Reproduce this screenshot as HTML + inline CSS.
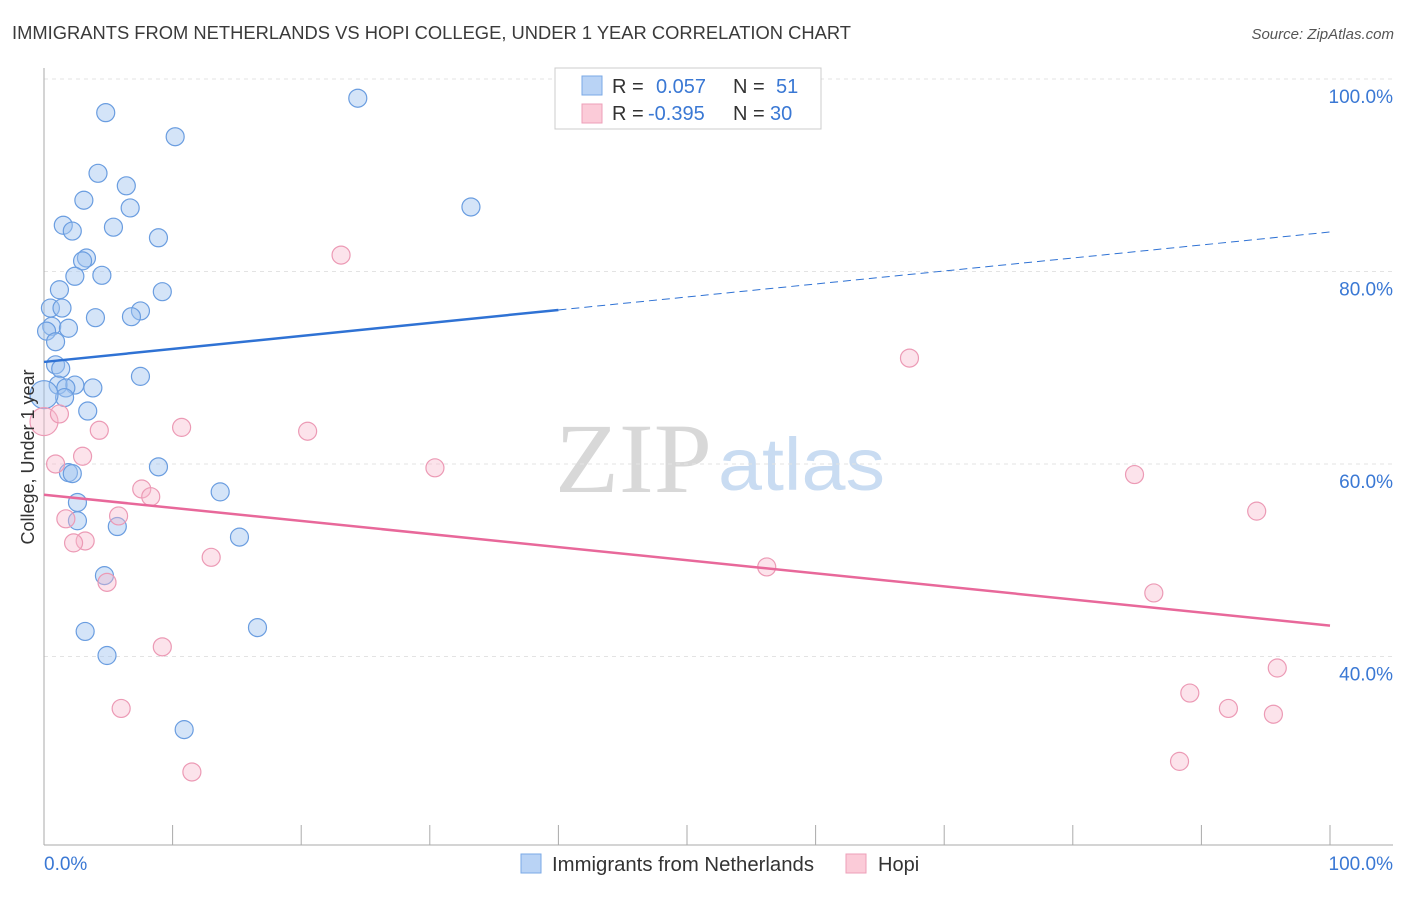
<!DOCTYPE html>
<html><head><meta charset="utf-8"><style>
body{margin:0;background:#fff;font-family:"Liberation Sans",sans-serif}
svg text{font-family:"Liberation Sans",sans-serif}
</style></head><body>
<svg id="chart" width="1406" height="892">
<text x="12" y="39" font-size="18" fill="#3a3a3a" textLength="839" lengthAdjust="spacingAndGlyphs">IMMIGRANTS FROM NETHERLANDS VS HOPI COLLEGE, UNDER 1 YEAR CORRELATION CHART</text>
<text x="1394" y="39" font-size="15" fill="#555" text-anchor="end" font-style="italic">Source: ZipAtlas.com</text>
<g>
<text x="555" y="492" font-size="100" fill="#d8d8d8" textLength="157" lengthAdjust="spacingAndGlyphs" style="font-family:'Liberation Serif',serif">ZIP</text>
<text x="718" y="490" font-size="74" fill="#c9dcf2" textLength="167" lengthAdjust="spacingAndGlyphs">atlas</text>
</g>
<g id="grid"></g><g id="axes"></g><g id="marks"></g>
<g>
<rect x="555" y="68" width="266" height="61" fill="#fff" stroke="#ccc"/>
<rect x="582" y="76" width="20" height="19" fill="#b9d3f5" stroke="#7aa8e6"/>
<text x="612" y="93" font-size="20" fill="#333">R = </text><text x="656" y="93" font-size="20" fill="#3a78d4">0.057</text>
<text x="733" y="93" font-size="20" fill="#333">N = </text><text x="776" y="93" font-size="20" fill="#3a78d4">51</text>
<rect x="582" y="104" width="20" height="19" fill="#fbcbd8" stroke="#ee9fb8"/>
<text x="612" y="120" font-size="20" fill="#333">R = </text><text x="648" y="120" font-size="20" fill="#3a78d4">-0.395</text>
<text x="733" y="120" font-size="20" fill="#333">N = </text><text x="770" y="120" font-size="20" fill="#3a78d4">30</text>
</g>
<g>
<rect x="521" y="854" width="20" height="19" fill="#b9d3f5" stroke="#7aa8e6"/>
<text x="552" y="871" font-size="20" fill="#333" textLength="262" lengthAdjust="spacingAndGlyphs">Immigrants from Netherlands</text>
<rect x="846" y="854" width="20" height="19" fill="#fbcbd8" stroke="#ee9fb8"/>
<text x="878" y="871" font-size="20" fill="#333">Hopi</text>
</g>
<text transform="translate(34,457) rotate(-90)" font-size="18" fill="#333" text-anchor="middle">College, Under 1 year</text>
</svg>
<script>
const blueX=[4.8,24.4,10.2,4.2,6.4,3.1,6.7,33.2,1.5,5.4,2.2,8.9,3.3,3.0,4.5,2.4,1.2,9.2,0.5,1.4,7.5,6.8,4.0,0.6,1.9,0.2,0.9,0.9,1.3,7.5,1.1,2.4,1.7,3.8,1.6,3.4,8.9,1.9,2.2,2.6,13.7,2.6,5.7,15.2,4.7,3.2,16.6,4.9,10.9,0];
const blueY=[96.4,97.9,93.9,90.1,88.8,87.3,86.5,86.6,84.7,84.5,84.1,83.4,81.3,81.0,79.5,79.4,78.0,77.8,76.1,76.1,75.8,75.2,75.1,74.2,74.0,73.7,72.6,70.2,69.8,69.0,68.1,68.1,67.8,67.8,66.8,65.4,59.6,59.0,58.9,55.9,57.0,54.0,53.4,52.3,48.3,42.5,42.9,40.0,32.3,67.1];
const pinkX=[23.1,67.3,0,1.2,10.7,4.3,20.5,3.0,0.9,30.4,84.8,7.6,8.3,1.7,5.8,94.3,3.2,2.3,13.0,56.2,4.9,86.3,9.2,95.9,89.1,6.0,92.1,95.6,88.3,11.5];
const pinkY=[81.6,70.9,64.3,65.1,63.7,63.4,63.3,60.7,59.9,59.5,58.8,57.3,56.5,54.2,54.5,55.0,51.9,51.7,50.2,49.2,47.6,46.5,40.9,38.7,36.1,34.5,34.5,33.9,29.0,27.9];
const blueTrend=[70.5,84.0];
const pinkTrend=[56.7,43.1];
const yTicks=[100,80,60,40];
const xTickCount=10;
const NS="http://www.w3.org/2000/svg";
function sx(v){return 44+v*12.86;}
function sy(v){return 78+(100-v)*9.625;}
function mk(tag,attrs,parent){const e=document.createElementNS(NS,tag);for(const k in attrs)e.setAttribute(k,attrs[k]);parent.appendChild(e);return e;}
const grid=document.getElementById('grid'),axes=document.getElementById('axes'),marks=document.getElementById('marks');
yTicks.forEach(t=>{
 const l=mk('line',{x1:44,x2:1393,y1:sy(t)+1,y2:sy(t)+1,stroke:'#e3e3e3','stroke-dasharray':'4,4'},grid);
 
 
 const tx=mk('text',{x:1393,y:sy(t)+25,'font-size':19,fill:'#3a78d4','text-anchor':'end'},axes);
 tx.textContent=t.toFixed(1)+'%';
 
 
});
let a=mk('line',{x1:44,x2:44,y1:68,y2:845,stroke:'#aaa'},axes);


a=mk('line',{x1:44,x2:1393,y1:845,y2:845,stroke:'#aaa'},axes);


for(let i=0;i<=xTickCount;i++){const x=sx(i*100/xTickCount);const t=mk('line',{x1:x,x2:x,y1:825,y2:845,stroke:'#aaa'},axes);
 
 }
let t0=mk('text',{x:44,y:870,'font-size':19,fill:'#3a78d4'},axes);t0.textContent='0.0%';


let t1=mk('text',{x:1393,y:870,'font-size':19,fill:'#3a78d4','text-anchor':'end'},axes);t1.textContent='100.0%';


blueX.forEach((x,i)=>{const big=(x===0);const c=mk('circle',{cx:sx(x),cy:sy(blueY[i]),r:big?14:9,fill:'rgba(160,196,240,0.45)',stroke:'#6a9de0','stroke-width':1.2},marks);
 
 });
pinkX.forEach((x,i)=>{const big=(x===0);const c=mk('circle',{cx:sx(x),cy:sy(pinkY[i]),r:big?14:9,fill:'rgba(248,184,204,0.4)',stroke:'#ec9ab5','stroke-width':1.2},marks);
 
 });
const bAt=v=>blueTrend[0]+(blueTrend[1]-blueTrend[0])*v/100;
let l=mk('line',{x1:sx(0),y1:sy(bAt(0)),x2:sx(40),y2:sy(bAt(40)),stroke:'#2f72d4','stroke-width':2.5},marks);


l=mk('line',{x1:sx(40),y1:sy(bAt(40)),x2:sx(100),y2:sy(bAt(100)),stroke:'#2f72d4','stroke-width':1,'stroke-dasharray':'8,5'},marks);


l=mk('line',{x1:sx(0),y1:sy(pinkTrend[0]),x2:sx(100),y2:sy(pinkTrend[1]),stroke:'#e8689a','stroke-width':2.5},marks);


</script>
</body></html>
